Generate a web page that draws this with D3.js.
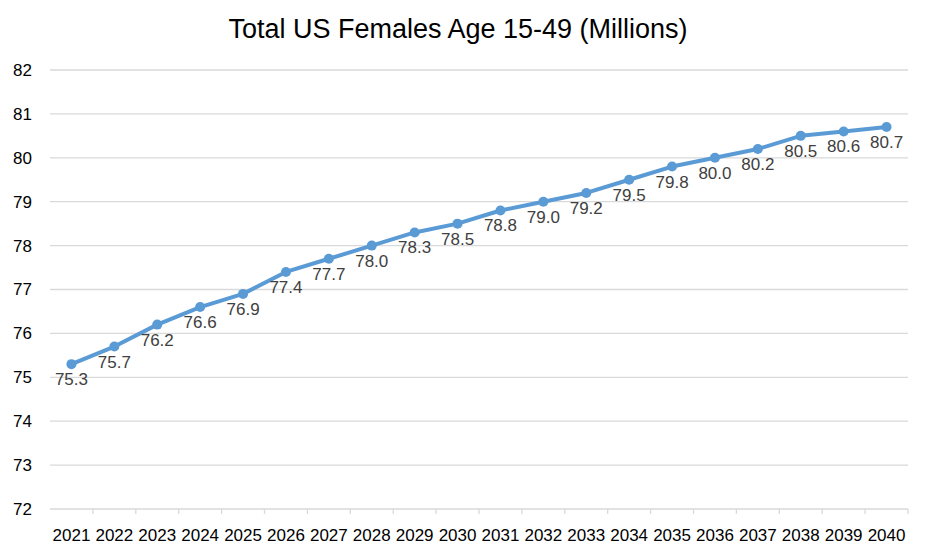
<!DOCTYPE html>
<html>
<head>
<meta charset="utf-8">
<script src="https://cdn.jsdelivr.net/npm/d3@7"></script>
<style>
  body { margin: 0; background: #fff; }
  text { font-family: "Liberation Sans", Arial, sans-serif; }
</style>
</head>
<body>
<div id="chart"></div>
<script>
const FRAME_WIDTH = 933;
const FRAME_HEIGHT = 556;
const MARGINS = {left: 50, right: 25, top: 70, bottom: 47};

const VIS_WIDTH = FRAME_WIDTH - MARGINS.left - MARGINS.right;
const VIS_HEIGHT = FRAME_HEIGHT - MARGINS.top - MARGINS.bottom;

const YEARS = ["2021", "2022", "2023", "2024", "2025", "2026", "2027", "2028", "2029", "2030",
               "2031", "2032", "2033", "2034", "2035", "2036", "2037", "2038", "2039", "2040"];
const FEMALES = [75.3, 75.7, 76.2, 76.6, 76.9, 77.4, 77.7, 78.0, 78.3, 78.5,
                 78.8, 79.0, 79.2, 79.5, 79.8, 80.0, 80.2, 80.5, 80.6, 80.7];
const Y_TICKS = [72, 73, 74, 75, 76, 77, 78, 79, 80, 81, 82];

const data = YEARS.map((y, i) => ({year: y, value: FEMALES[i]}));

const svg = d3.select("#chart")
    .append("svg")
    .attr("width", FRAME_WIDTH)
    .attr("height", FRAME_HEIGHT);

svg.append("text")
    .attr("x", 458)
    .attr("y", 38)
    .attr("text-anchor", "middle")
    .attr("font-size", 27)
    .attr("fill", "#000")
    .text("Total US Females Age 15-49 (Millions)");

const X_SCALE = d3.scaleBand()
    .domain(YEARS)
    .range([0, VIS_WIDTH]);

const Y_SCALE = d3.scaleLinear()
    .domain([72, 82])
    .range([VIS_HEIGHT, 0]);

const g = svg.append("g")
    .attr("transform", "translate(" + MARGINS.left + "," + MARGINS.top + ")");

// gridlines
g.append("g")
    .selectAll("line")
    .data(Y_TICKS)
    .enter()
    .append("line")
        .attr("x1", 0)
        .attr("x2", VIS_WIDTH)
        .attr("y1", d => Y_SCALE(d))
        .attr("y2", d => Y_SCALE(d))
        .attr("stroke", "#d9d9d9")
        .attr("stroke-width", 1.3);

// y axis labels
const yAxis = g.append("g")
    .call(d3.axisLeft(Y_SCALE).tickValues(Y_TICKS).tickSize(0).tickPadding(18));
yAxis.select(".domain").remove();
yAxis.selectAll("text")
    .attr("font-size", 17)
    .attr("fill", "#000")
    .style("font-family", "Liberation Sans, Arial, sans-serif");

// x axis labels
const xAxis = g.append("g")
    .attr("transform", "translate(0," + VIS_HEIGHT + ")")
    .call(d3.axisBottom(X_SCALE).tickSize(0).tickPadding(20));
xAxis.select(".domain").remove();
xAxis.selectAll("text")
    .attr("font-size", 17)
    .attr("fill", "#000")
    .style("font-family", "Liberation Sans, Arial, sans-serif");

// tick marks at category boundaries (none at the left edge)
const bounds = YEARS.slice(1).map(d => X_SCALE(d)).concat([VIS_WIDTH]);
g.append("g")
    .selectAll("line")
    .data(bounds)
    .enter()
    .append("line")
        .attr("x1", d => d)
        .attr("x2", d => d)
        .attr("y1", VIS_HEIGHT)
        .attr("y2", VIS_HEIGHT + 5)
        .attr("stroke", "#d9d9d9")
        .attr("stroke-width", 1.3);

const cx = d => X_SCALE(d.year) + X_SCALE.bandwidth() / 2;

const line = d3.line()
    .x(cx)
    .y(d => Y_SCALE(d.value));

g.append("path")
    .datum(data)
    .attr("d", line)
    .attr("fill", "none")
    .attr("stroke", "#5b9bd5")
    .attr("stroke-width", 4)
    .attr("stroke-linejoin", "round")
    .attr("stroke-linecap", "round");

g.selectAll(".pt")
    .data(data)
    .enter()
    .append("circle")
        .attr("class", "pt")
        .attr("cx", cx)
        .attr("cy", d => Y_SCALE(d.value))
        .attr("r", 5)
        .attr("fill", "#5b9bd5");

g.selectAll(".lbl")
    .data(data)
    .enter()
    .append("text")
        .attr("class", "lbl")
        .attr("x", cx)
        .attr("y", d => Y_SCALE(d.value) + 21)
        .attr("text-anchor", "middle")
        .attr("font-size", 17)
        .attr("fill", "#404040")
        .text(d => d.value.toFixed(1));
</script>
</body>
</html>
